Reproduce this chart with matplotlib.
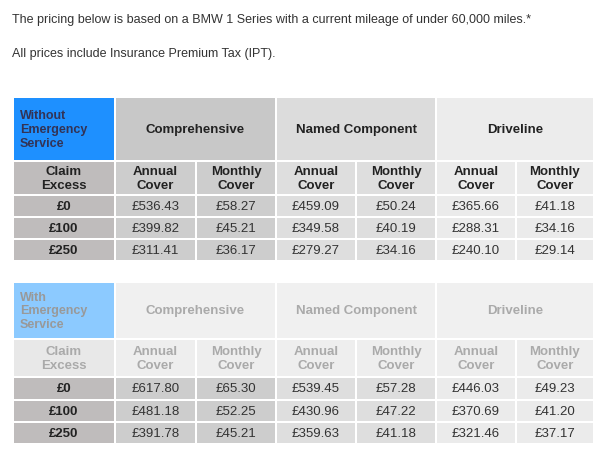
import matplotlib
matplotlib.use("Agg")
import matplotlib.pyplot as plt
from matplotlib.patches import Rectangle

plt.rcParams["font.family"] = "Liberation Sans"

intro1 = "The pricing below is based on a BMW 1 Series with a current mileage of under 60,000 miles.*"
intro2 = "All prices include Insurance Premium Tax (IPT)."
products = ["Comprehensive", "Named Component", "Driveline"]
sub_labels = ["Annual\nCover", "Monthly\nCover"]
excess = ["£0", "£100", "£250"]
without_values = [
    ["£536.43", "£58.27", "£459.09", "£50.24", "£365.66", "£41.18"],
    ["£399.82", "£45.21", "£349.58", "£40.19", "£288.31", "£34.16"],
    ["£311.41", "£36.17", "£279.27", "£34.16", "£240.10", "£29.14"],
]
with_values = [
    ["£617.80", "£65.30", "£539.45", "£57.28", "£446.03", "£49.23"],
    ["£481.18", "£52.25", "£430.96", "£47.22", "£370.69", "£41.20"],
    ["£391.78", "£45.21", "£359.63", "£41.18", "£321.46", "£37.17"],
]
titles = ["Without\nEmergency\nService", "With\nEmergency\nService"]

fig = plt.figure(figsize=(6.1, 4.6), dpi=100)
ax = fig.add_axes([0, 0, 1, 1])
ax.set_xlim(0, 610)
ax.set_ylim(460, 0)
ax.axis("off")

ax.text(12, 20, intro1, fontsize=9, color="#333333", va="center")
ax.text(12, 54, intro2, fontsize=9, color="#333333", va="center")

col_edges = [13, 115, 196, 276, 356, 436, 516, 594]
head_cols = ["#c8c8c8", "#dcdcdc", "#ececec"]
data_cols = ["#cdcdcd", "#dedede", "#ebebeb"]
g = 1.0

def cell(x0, x1, y0, y1, fill, text, fs=9.5, tcolor="#222222", fw="normal"):
    ax.add_patch(Rectangle((x0 + g, y0 + g), x1 - x0 - 2 * g, y1 - y0 - 2 * g,
                           facecolor=fill, edgecolor="none"))
    if text:
        ax.text((x0 + x1) / 2, (y0 + y1) / 2, text, ha="center", va="center",
                fontsize=fs, color=tcolor, fontweight=fw, linespacing=1.2)

def table(y_edges, title, values, faded):
    tc = "#aaaaaa" if faded else "#222222"
    ax.add_patch(Rectangle((col_edges[0] + g, y_edges[0] + g), col_edges[1] - col_edges[0] - 2 * g,
                           y_edges[1] - y_edges[0] - 2 * g,
                           facecolor="#8ccaff" if faded else "#1e90ff", edgecolor="none"))
    ax.text(col_edges[0] + 7, (y_edges[0] + y_edges[1]) / 2, title, ha="left", va="center",
            fontsize=9, fontweight="bold", color="#999999" if faded else "#333355", linespacing=1.2)
    for i, p in enumerate(products):
        cell(col_edges[1 + 2 * i], col_edges[3 + 2 * i], y_edges[0], y_edges[1],
             "#f0f0f0" if faded else head_cols[i], p, fw="bold", tcolor=tc)
    cell(col_edges[0], col_edges[1], y_edges[1], y_edges[2],
         "#e8e8e8" if faded else "#bfbcbc", "Claim\nExcess", fw="bold", tcolor=tc)
    for j in range(6):
        cell(col_edges[1 + j], col_edges[2 + j], y_edges[1], y_edges[2],
             "#eeeeee" if faded else data_cols[j // 2], sub_labels[j % 2], fw="bold", tcolor=tc)
    for r in range(3):
        cell(col_edges[0], col_edges[1], y_edges[2 + r], y_edges[3 + r], "#bfbcbc",
             excess[r], fw="bold")
        for j in range(6):
            cell(col_edges[1 + j], col_edges[2 + j], y_edges[2 + r], y_edges[3 + r],
                 data_cols[j // 2], values[r][j], tcolor="#333333")

table([98, 162, 196, 218, 240, 262], titles[0], without_values, False)
table([283, 340, 378, 401, 423, 445], titles[1], with_values, True)

fig.savefig("out.png", dpi=100)
